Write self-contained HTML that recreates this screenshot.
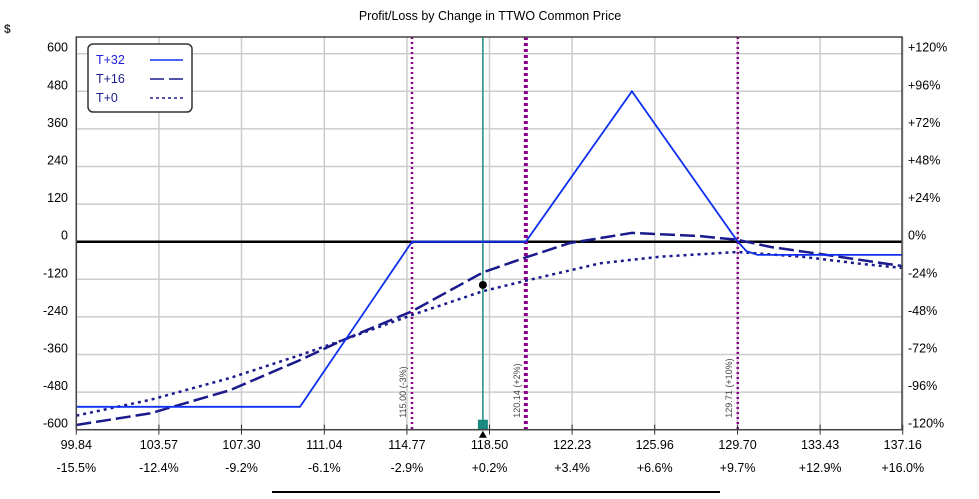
<!DOCTYPE html>
<html><head><meta charset="utf-8"><style>
body{margin:0;background:#fff;width:979px;height:494px;overflow:hidden;font-family:"Liberation Sans",Tahoma,sans-serif}
svg text{font-family:"Liberation Sans",sans-serif}
</style></head><body>
<svg id="chart" width="979" height="494" xmlns="http://www.w3.org/2000/svg">
<text x="490" y="20" font-size="12.5" text-anchor="middle" fill="#000">Profit/Loss by Change in TTWO Common Price</text>
<text x="4" y="33" font-size="12" font-weight="bold" fill="#333">$</text>
<g id="grid"></g><g id="marks"></g><g id="axes"></g>
<line x1="272" y1="492" x2="720" y2="492" stroke="#000" stroke-width="2"/>
</svg>
<script>
const xTicks=[99.84,103.57,107.30,111.04,114.77,118.50,122.23,125.96,129.70,133.43,137.16];
const pctTicks=["-15.5%","-12.4%","-9.2%","-6.1%","-2.9%","+0.2%","+3.4%","+6.6%","+9.7%","+12.9%","+16.0%"];
const yTicks=[600,480,360,240,120,0,-120,-240,-360,-480,-600];
const yPct=["+120%","+96%","+72%","+48%","+24%","0%","-24%","-48%","-72%","-96%","-120%"];
const t32Price=[99.84,109.94,115.0,120.14,124.93,129.71,130.1,130.6,137.16];
const t32Val=[-527,-527,0,0,480,0,-30,-42,-42];
const t16Price=[99.84,103.17,106.78,109.94,111.88,115.0,118.2,120.1,122.13,124.93,126.2,128.0,129.7,131.2,133.4,137.16];
const t16Val=[-585,-548,-474,-378,-314,-222,-98,-51,-4,28,24,18,6,-17,-39,-78];
const t0Price=[99.84,103.17,106.78,109.94,111.88,115.0,118.2,120.1,123.5,126.2,129.7,132.6,135.3,137.16];
const t0Val=[-555,-505,-435,-362,-314,-234,-158,-125,-69,-48,-33,-48,-71,-84];
const markers=[115.00,120.14,129.71];
const markerLabels=["115.00 (-3%)","120.14 (+2%)","129.71 (+10%)"];
const currentPrice=118.2, currentVal=-138;
const L=76.3,R=902,T=37,B=429.7;
const x=p=>L+(p-99.84)/3.73*82.6;
const y=v=>241.7-v/120*37.6;
const NS="http://www.w3.org/2000/svg";
function mk(tag,parent,attrs){const e=document.createElementNS(NS,tag);for(const k in attrs)e.setAttribute(k,attrs[k]);document.getElementById(parent).appendChild(e);return e;}
xTicks.forEach((t,i)=>{
 const g=mk('line','grid',{x1:x(t),x2:x(t),y1:T,y2:B,stroke:'#ccc','stroke-width':1.5});
 
 
 const tk=mk('line','axes',{x1:x(t),x2:x(t),y1:B-5,y2:B+5,stroke:'#333'});
 
 
 const a=mk('text','axes',{x:x(t),y:449,'font-size':12.5,'text-anchor':'middle',fill:'#000'});a.textContent=t.toFixed(2);
 
 
 const b=mk('text','axes',{x:x(t),y:472,'font-size':12.5,'text-anchor':'middle',fill:'#000'});b.textContent=pctTicks[i];
 
 
});
yTicks.forEach((v,i)=>{
 if(v!==0){const g=mk('line','grid',{x1:L,x2:R,y1:y(v),y2:y(v),stroke:'#ccc','stroke-width':1.5});
 
 }
 const a=mk('text','axes',{x:68,y:y(v)-2,'font-size':12.5,'text-anchor':'end',fill:'#000'});a.textContent=v;
 
 
 const b=mk('text','axes',{x:908,y:y(v)-2,'font-size':12.5,fill:'#000'});b.textContent=yPct[i];
 
 
});
const fr=mk('rect','axes',{x:L,y:T,width:R-L,height:B-T,fill:'none',stroke:'#444','stroke-width':1.5});


const z=mk('line','marks',{x1:L,x2:R,y1:y(0),y2:y(0),stroke:'#000','stroke-width':2.5});


markers.forEach((m,i)=>{
 const l=mk('line','marks',{x1:x(m),x2:x(m),y1:T,y2:B,stroke:'#8b008b','stroke-width':i==1?4:2.5,'stroke-dasharray':i==1?'3,3':'2,3'});
 
 
 const t=mk('text','marks',{x:0,y:0,'font-size':9,fill:'#444',transform:`translate(${x(m)-6},${B-12}) rotate(-90)`});t.textContent=markerLabels[i];
 
 
});
const cl=mk('line','marks',{x1:x(currentPrice),x2:x(currentPrice),y1:T,y2:B,stroke:'#1a8a80','stroke-width':1.5});


function path(ps,vs,attrs,name){const d=ps.map((p,i)=>(i?'L':'M')+x(p).toFixed(1)+','+y(vs[i]).toFixed(1)).join(' ');
 const e=mk('path','marks',Object.assign({d:d,fill:'none'},attrs));
 
 }
path(t0Price,t0Val,{stroke:'#1a1a8c','stroke-width':2.5,'stroke-dasharray':'3,4'},'series-t0');
path(t16Price,t16Val,{stroke:'#1a1a8c','stroke-width':2.5,'stroke-dasharray':'15,5'},'series-t16');
path(t32Price,t32Val,{stroke:'#1030f0','stroke-width':1.8},'series-t32');
const dot=mk('circle','marks',{cx:x(currentPrice),cy:y(currentVal),r:4,fill:'#000'});


const sq=mk('rect','marks',{x:x(currentPrice)-5,y:B-10,width:10,height:10,fill:'#1a8a80'});


const tri=mk('path','marks',{d:`M${x(currentPrice)-4},${B+8} L${x(currentPrice)+4},${B+8} L${x(currentPrice)},${B+1} Z`,fill:'#000'});


const lr=mk('rect','axes',{x:88,y:44,width:104,height:68,rx:5,fill:'#fff',stroke:'#333','stroke-width':1.5});


const names=['T+32','T+16','T+0'];
const dashes=[null,'14,5','3,3'];
names.forEach((n,i)=>{
 const t=mk('text','axes',{x:96,y:64+i*19,'font-size':12.5,fill:i==0?'#2020e0':'#1a1a8c'});t.textContent=n;
 
 
 const a={x1:150,x2:183,y1:60+i*19,y2:60+i*19,stroke:i==0?'#1030f0':'#1a1a8c','stroke-width':1.5};
 if(dashes[i])a['stroke-dasharray']=dashes[i];
 const l=mk('line','axes',a);
 
 
});
</script>
</body></html>
